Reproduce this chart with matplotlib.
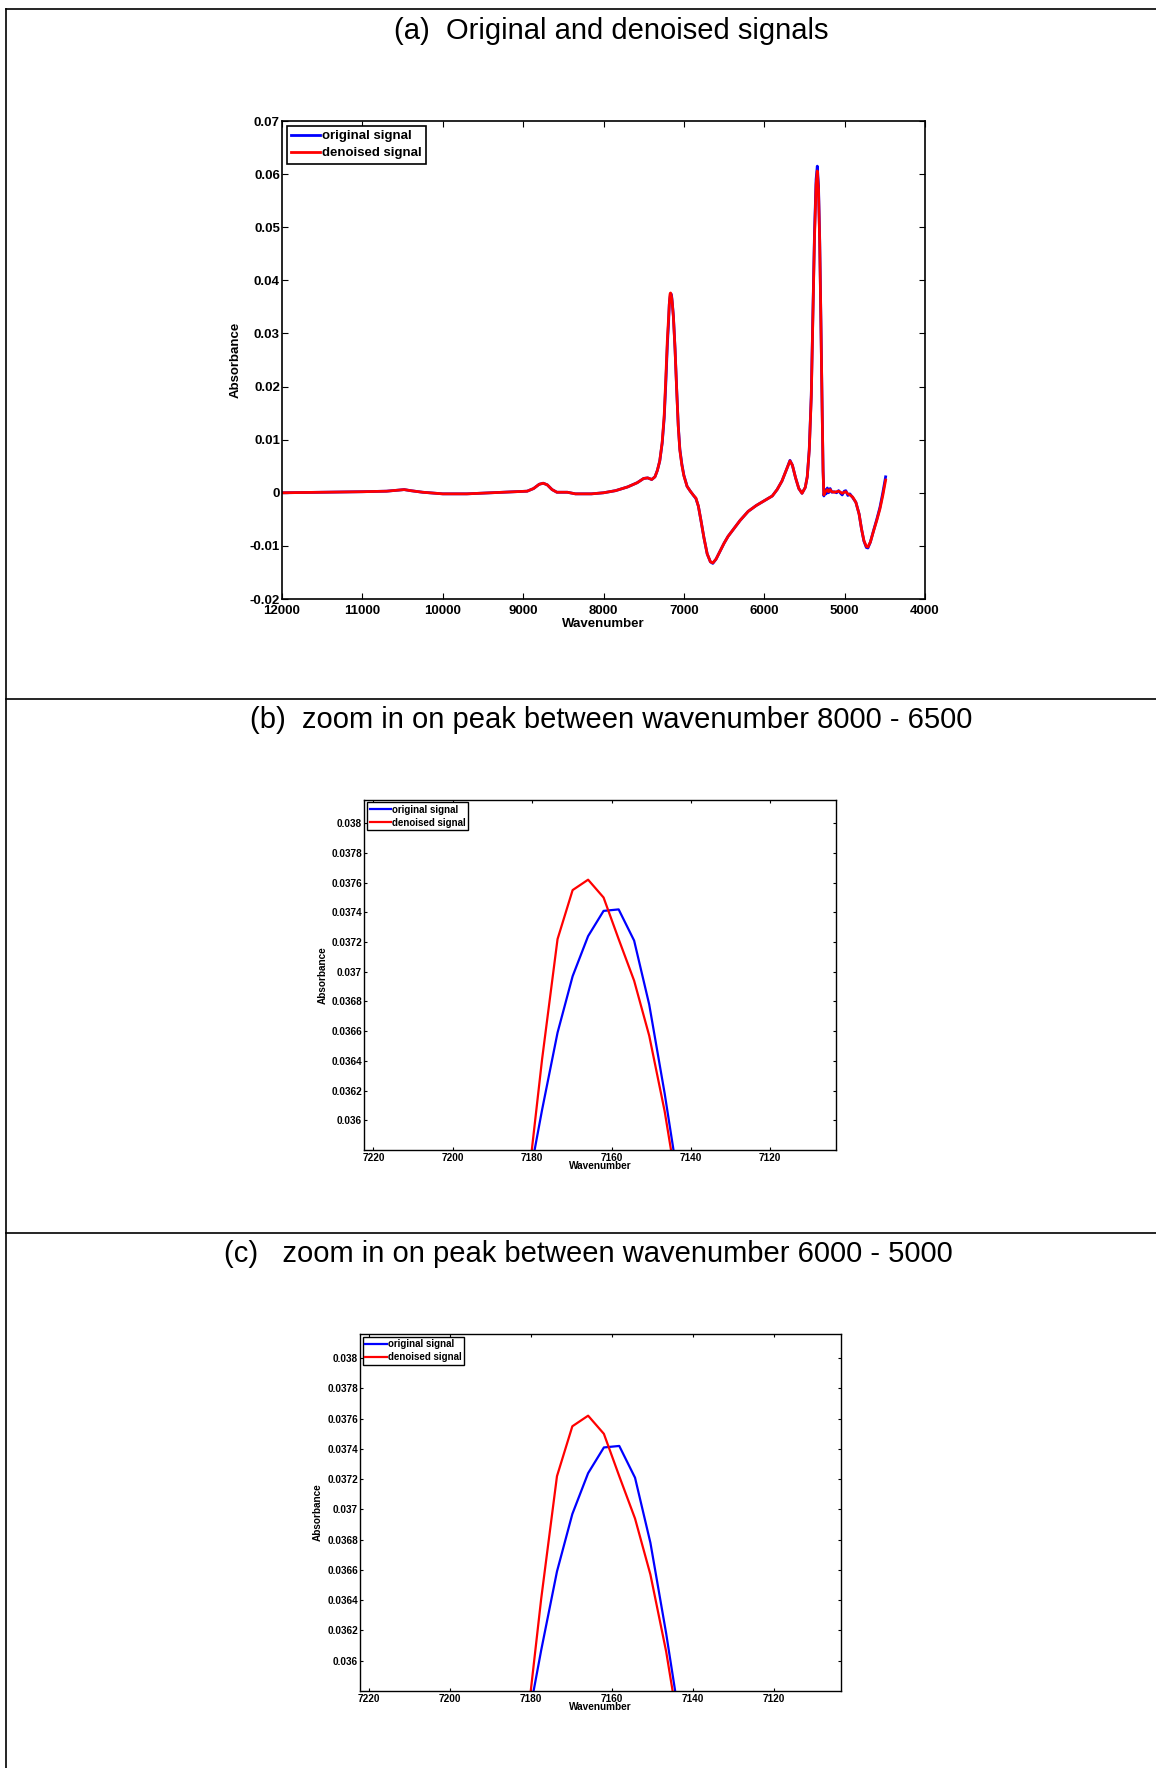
import matplotlib
matplotlib.use("Agg")
import matplotlib.pyplot as plt
from matplotlib.lines import Line2D
from matplotlib.ticker import FixedLocator, FixedFormatter

plt.rcParams['font.family'] = ['Liberation Sans', 'DejaVu Sans']

# ---------------- data ----------------
wavenumber = [
    12000, 11500, 11000, 10700, 10550, 10480, 10400, 10250, 10000, 9700,
    9400, 9100, 8950, 8870, 8800, 8750, 8700, 8640, 8580, 8450,
    8350, 8150, 8000, 7850, 7700, 7580, 7500, 7450, 7400, 7360,
    7330, 7300, 7270, 7245, 7225, 7205, 7190,
    7181.4, 7177.5, 7173.6, 7169.8, 7165.9, 7162.0, 7158.2, 7154.3, 7150.5, 7146.6, 7142.8,
    7130, 7110, 7090, 7070, 7050, 7025, 7000, 6960, 6920, 6880,
    6850, 6820, 6790, 6750, 6710, 6670, 6640, 6600, 6550, 6500,
    6450, 6400, 6300, 6200, 6100, 6000, 5900, 5840, 5780, 5720,
    5680, 5650, 5610, 5570, 5530, 5490, 5465, 5440, 5415, 5395,
    5375, 5355, 5340, 5325, 5310, 5295, 5280, 5268, 5258, 5245,
    5230, 5215, 5200, 5180, 5160, 5130, 5100, 5075, 5050, 5030,
    5005, 4985, 4960, 4935, 4900, 4860, 4820, 4790, 4760, 4730,
    4710, 4680, 4640, 4600, 4560, 4525, 4490,
]

original_signal = [
    0.0000, 0.0001, 0.0002, 0.0003, 0.0005, 0.0006, 0.0004, 0.0001, -0.0002, -0.0002,
    0.0000, 0.0002, 0.0003, 0.0008, 0.0016, 0.0018, 0.0015, 0.0006, 0.0001, 0.0001,
    -0.0002, -0.0002, 0.0000, 0.0004, 0.0011, 0.0019, 0.0027, 0.0028, 0.0025, 0.0030,
    0.0042, 0.0060, 0.0093, 0.0140, 0.0205, 0.0280, 0.0322,
    0.03551, 0.03607, 0.03659, 0.03697, 0.03724, 0.03741, 0.03742, 0.03721, 0.03678, 0.03618, 0.03553,
    0.0332, 0.0272, 0.0197, 0.0127, 0.0082, 0.0054, 0.0033, 0.0012, 0.0003, -0.0005,
    -0.0011, -0.0025, -0.0050, -0.0085, -0.0115, -0.0130, -0.0133, -0.0125, -0.0110, -0.0095,
    -0.0082, -0.0072, -0.0052, -0.0035, -0.0024, -0.0015, -0.0006, 0.0006, 0.0022, 0.0045,
    0.0061, 0.0052, 0.0028, 0.0008, -0.0001, 0.0010, 0.0030, 0.0082, 0.0184, 0.0336,
    0.0488, 0.0590, 0.0615, 0.0578, 0.0476, 0.0324, 0.0162, 0.0042, -0.0006, 0.0006,
    -0.0002, 0.0009, 0.0000, 0.0008, 0.0001, 0.0002, 0.0000, 0.0004, -0.0001, -0.0004,
    0.0003, 0.0004, -0.0005, -0.0002, -0.0009, -0.0018, -0.0040, -0.0068, -0.0091, -0.0103,
    -0.0104, -0.0093, -0.0071, -0.0050, -0.0027, 0.0000, 0.0030,
]

denoised_signal = [
    0.0000, 0.0001, 0.0002, 0.0003, 0.0005, 0.0006, 0.0004, 0.0001, -0.0002, -0.0002,
    0.0000, 0.0002, 0.0003, 0.0008, 0.0016, 0.0018, 0.0015, 0.0006, 0.0001, 0.0001,
    -0.0002, -0.0002, 0.0000, 0.0004, 0.0011, 0.0019, 0.0027, 0.0028, 0.0025, 0.0030,
    0.0042, 0.0060, 0.0095, 0.0145, 0.0215, 0.0290, 0.0330,
    0.03549, 0.03641, 0.03722, 0.03755, 0.03762, 0.03750, 0.03722, 0.03694, 0.03657, 0.03606, 0.03544,
    0.0330, 0.0270, 0.0195, 0.0125, 0.0080, 0.0052, 0.0032, 0.0012, 0.0003, -0.0005,
    -0.0010, -0.0025, -0.0050, -0.0085, -0.0115, -0.0130, -0.0132, -0.0125, -0.0110, -0.0095,
    -0.0082, -0.0072, -0.0052, -0.0035, -0.0024, -0.0015, -0.0006, 0.0006, 0.0022, 0.0045,
    0.0060, 0.0052, 0.0028, 0.0008, -0.0001, 0.0010, 0.0030, 0.0080, 0.0180, 0.0330,
    0.0480, 0.0580, 0.0606, 0.0570, 0.0470, 0.0320, 0.0160, 0.0040, -0.0004, 0.0002,
    0.0003, 0.0006, 0.0002, 0.0006, 0.0002, 0.0001, 0.0002, 0.0003, 0.0001, -0.0001,
    0.0001, 0.0002, -0.0002, -0.0004, -0.0008, -0.0018, -0.0040, -0.0068, -0.0090, -0.0101,
    -0.0102, -0.0093, -0.0072, -0.0052, -0.0030, -0.0005, 0.0024,
]

series_labels = ["original signal", "denoised signal"]
panel_titles = [
    "(a)  Original and denoised signals",
    "(b)  zoom in on peak between wavenumber 8000 - 6500",
    "(c)   zoom in on peak between wavenumber 6000 - 5000",
]
x_label = "Wavenumber"
y_label = "Absorbance"

full_xticks = [12000, 11000, 10000, 9000, 8000, 7000, 6000, 5000, 4000]
full_yticks = [-0.02, -0.01, 0, 0.01, 0.02, 0.03, 0.04, 0.05, 0.06, 0.07]
full_yticklabels = ["-0.02", "-0.01", "0", "0.01", "0.02", "0.03", "0.04", "0.05", "0.06", "0.07"]

zoom_xticks = [7220, 7200, 7180, 7160, 7140, 7120]
zoom_yticks = [0.036, 0.0362, 0.0364, 0.0366, 0.0368, 0.037, 0.0372, 0.0374, 0.0376, 0.0378, 0.038]
zoom_yticklabels = ["0.036", "0.0362", "0.0364", "0.0366", "0.0368", "0.037",
                    "0.0372", "0.0374", "0.0376", "0.0378", "0.038"]

# ---------------- figure ----------------
W, H = 1156, 1768
fig = plt.figure(figsize=(W / 100, H / 100), dpi=100)
fig.patch.set_facecolor("white")

# table-like frame lines
lw_frame = 1.2
fig.add_artist(Line2D([6 / W, 1], [1 - 9 / H, 1 - 9 / H], color="black", lw=lw_frame))
fig.add_artist(Line2D([6 / W, 6 / W], [0, 1 - 9 / H], color="black", lw=lw_frame))
fig.add_artist(Line2D([6 / W, 1], [1 - 699 / H, 1 - 699 / H], color="black", lw=lw_frame))
fig.add_artist(Line2D([6 / W, 1], [1 - 1233 / H, 1 - 1233 / H], color="black", lw=lw_frame))

# panel titles
fig.text(611 / W, 1 - 31 / H, panel_titles[0], ha="center", va="center", fontsize=21)
fig.text(611 / W, 1 - 720 / H, panel_titles[1], ha="center", va="center", fontsize=21)
fig.text(588 / W, 1 - 1254 / H, panel_titles[2], ha="center", va="center", fontsize=21)


def style_axes(ax, fs, ticklen, spine_lw):
    for s in ax.spines.values():
        s.set_linewidth(spine_lw)
        s.set_color("black")
    ax.tick_params(direction="in", top=True, right=True, length=ticklen,
                   width=0.8, labelsize=fs, pad=1.5)
    for lab in ax.get_xticklabels() + ax.get_yticklabels():
        lab.set_fontweight("bold")


# ---- panel (a) ----
axa = fig.add_axes([282 / W, 1 - 599 / H, (925 - 282) / W, (599 - 121) / H])
axa.plot(wavenumber, original_signal, color="blue", lw=2.0, label=series_labels[0])
axa.plot(wavenumber, denoised_signal, color="red", lw=2.0, label=series_labels[1])
axa.set_xlim(12000, 4000)
axa.set_ylim(-0.02, 0.07)
axa.xaxis.set_major_locator(FixedLocator(full_xticks))
axa.yaxis.set_major_locator(FixedLocator(full_yticks))
axa.yaxis.set_major_formatter(FixedFormatter(full_yticklabels))
axa.set_xlabel(x_label, fontsize=9.5, fontweight="bold", labelpad=1)
axa.set_ylabel(y_label, fontsize=9.5, fontweight="bold", labelpad=6)
style_axes(axa, 9.5, 4.0, 1.2)
axa.tick_params(axis="x", pad=4)
leg = axa.legend(loc="upper left", prop={"weight": "bold", "size": 9.5},
                 handlelength=2.2, handletextpad=0.1, borderpad=0.35,
                 labelspacing=0.35, borderaxespad=0.35, fancybox=False,
                 framealpha=1, edgecolor="black")
leg.get_frame().set_linewidth(1.2)


# ---- panels (b) and (c) ----
def zoom_panel(rect):
    ax = fig.add_axes(rect)
    ax.plot(wavenumber, original_signal, color="blue", lw=1.6, label=series_labels[0])
    ax.plot(wavenumber, denoised_signal, color="red", lw=1.6, label=series_labels[1])
    ax.set_xlim(7222.3, 7103.5)
    ax.set_ylim(0.03580, 0.03816)
    ax.xaxis.set_major_locator(FixedLocator(zoom_xticks))
    ax.yaxis.set_major_locator(FixedLocator(zoom_yticks))
    ax.yaxis.set_major_formatter(FixedFormatter(zoom_yticklabels))
    ax.set_xlabel(x_label, fontsize=7.2, fontweight="bold", labelpad=-1)
    ax.set_ylabel(y_label, fontsize=7.2, fontweight="bold", labelpad=3)
    style_axes(ax, 7.2, 2.5, 1.0)
    ax.tick_params(axis="x", pad=2)
    lg = ax.legend(loc="upper left", prop={"weight": "bold", "size": 7},
                   handlelength=2.2, handletextpad=0.1, borderpad=0.25,
                   labelspacing=0.3, borderaxespad=0.3, fancybox=False,
                   framealpha=1, edgecolor="black")
    lg.get_frame().set_linewidth(1.0)
    return ax


axb = zoom_panel([364.3 / W, 1 - 1150 / H, (835.7 - 364.3) / W, (1150 - 799.5) / H])
axc = zoom_panel([360 / W, 1 - 1691 / H, (840.5 - 360) / W, (1691 - 1334) / H])

fig.savefig("out.png", dpi=100, facecolor="white")
